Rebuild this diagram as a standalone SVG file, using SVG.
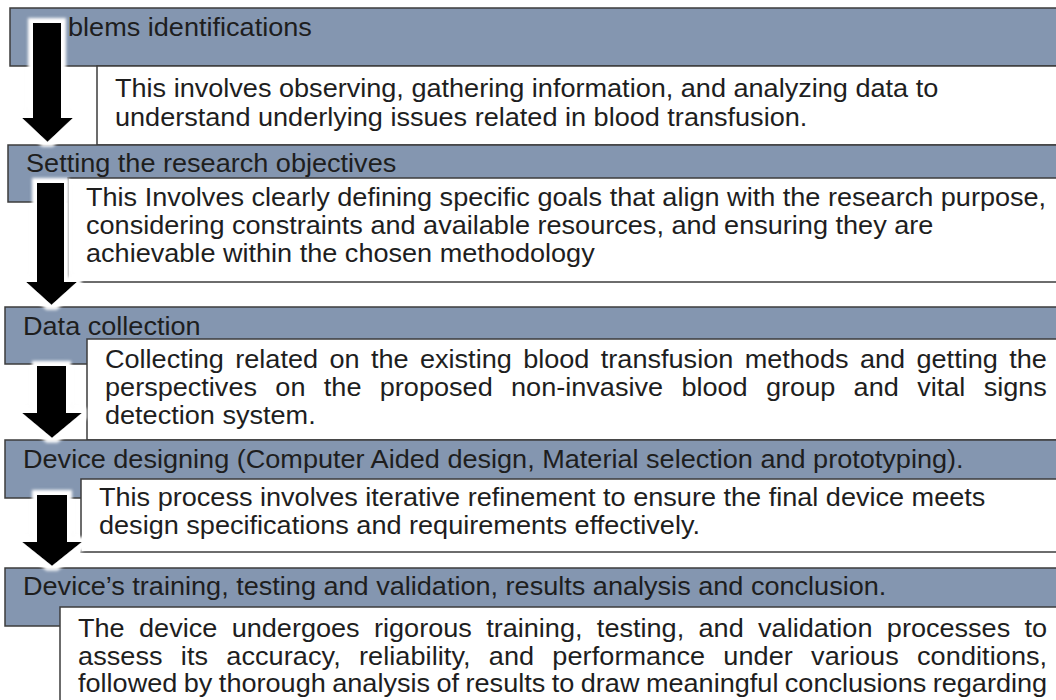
<svg xmlns="http://www.w3.org/2000/svg" width="1056" height="700" viewBox="0 0 1056 700">
  <style>
    .band { fill: #8496B0; stroke: #3c3c3c; stroke-width: 1.5; }
    .box { fill: #ffffff; stroke: #3c3c3c; stroke-width: 1.5; }
    .t { font-family: "Liberation Sans", Arial, sans-serif; font-size: 25.8px; fill: #1e1e1e; }
    .arrow { fill: #000000; filter: url(#glow); }
  </style>
  <defs>
    <!-- white halo with a faint grey fringe around the block arrows -->
    <filter id="glow" x="-60%" y="-15%" width="220%" height="130%">
      <feGaussianBlur in="SourceAlpha" stdDeviation="5" result="soft"/>
      <feFlood flood-color="#000000" flood-opacity="0.12"/>
      <feComposite in2="soft" operator="in" result="shade"/>
      <feMorphology in="SourceAlpha" operator="dilate" radius="5" result="grow"/>
      <feGaussianBlur in="grow" stdDeviation="1.5" result="growSoft"/>
      <feFlood flood-color="#ffffff"/>
      <feComposite in2="growSoft" operator="in" result="halo"/>
      <feMerge>
        <feMergeNode in="shade"/>
        <feMergeNode in="halo"/>
        <feMergeNode in="SourceGraphic"/>
      </feMerge>
    </filter>
  </defs>

  <rect width="1056" height="700" fill="#ffffff"/>

  <g id="step1">
    <rect class="band" x="10" y="8" width="1060" height="58"/>
    <rect class="box" x="97" y="66" width="975" height="79"/>
  </g>
  <g id="step2">
    <rect class="band" x="8" y="145" width="1060" height="57"/>
    <rect class="box" x="68" y="178" width="1000" height="104"/>
  </g>
  <g id="step3">
    <rect class="band" x="5" y="307" width="1060" height="57"/>
    <rect class="box" x="87" y="339" width="980" height="101"/>
  </g>
  <g id="step4">
    <rect class="band" x="5" y="440" width="1060" height="58"/>
    <rect class="box" x="81" y="479" width="985" height="73"/>
  </g>
  <g id="step5">
    <rect class="band" x="5" y="568" width="1060" height="58"/>
    <rect class="box" x="60" y="607" width="1005" height="110"/>
  </g>

  <!-- all labels share a slight horizontal stretch -->
  <g id="labels" transform="scale(1.05,1)">
    <text class="t" x="64.8" y="36">blems identifications</text>
    <text class="t" x="109.5" y="97">This involves observing, gathering information, and analyzing data to</text>
    <text class="t" x="109.5" y="126">understand underlying issues related in blood transfusion.</text>

    <text class="t" x="24.8" y="172">Setting the research objectives</text>
    <text class="t" x="81.9" y="206">This Involves clearly defining specific goals that align with the research purpose,</text>
    <text class="t" x="81.9" y="234">considering constraints and available resources, and ensuring they are</text>
    <text class="t" x="81.9" y="262">achievable within the chosen methodology</text>

    <text class="t" x="21.9" y="335">Data collection</text>
    <text class="t" x="100" y="368" word-spacing="3.7" textLength="897" lengthAdjust="spacing">Collecting related on the existing blood transfusion methods and getting the</text>
    <text class="t" x="100" y="396" word-spacing="10.3" textLength="897" lengthAdjust="spacing">perspectives on the proposed non-invasive blood group and vital signs</text>
    <text class="t" x="100" y="424">detection system.</text>

    <text class="t" x="21.9" y="468">Device designing (Computer Aided design, Material selection and prototyping).</text>
    <text class="t" x="94.3" y="506">This process involves iterative refinement to ensure the final device meets</text>
    <text class="t" x="94.3" y="534">design specifications and requirements effectively.</text>

    <text class="t" x="21.9" y="595">Device’s training, testing and validation, results analysis and conclusion.</text>
    <text class="t" x="74.3" y="637" word-spacing="6.5" textLength="923" lengthAdjust="spacing">The device undergoes rigorous training, testing, and validation processes to</text>
    <text class="t" x="74.3" y="665" word-spacing="10.1" textLength="923" lengthAdjust="spacing">assess its accuracy, reliability, and performance under various conditions,</text>
    <text class="t" x="74.3" y="692" word-spacing="-1" textLength="923" lengthAdjust="spacing">followed by thorough analysis of results to draw meaningful conclusions regarding</text>
  </g>

  <g id="connectors">
    <polygon class="arrow" points="33,23 61,23 61,118 73,118 47.5,142 22,118 33,118"/>
    <polygon class="arrow" points="37,183 64,183 64,282 77,282 51.5,305 26,282 37,282"/>
    <polygon class="arrow" points="37,366 66,366 66,413 82,413 52,438 22,413 37,413"/>
    <polygon class="arrow" points="37,495 67,495 67,542 82,542 52,566 22,542 37,542"/>
  </g>
</svg>
